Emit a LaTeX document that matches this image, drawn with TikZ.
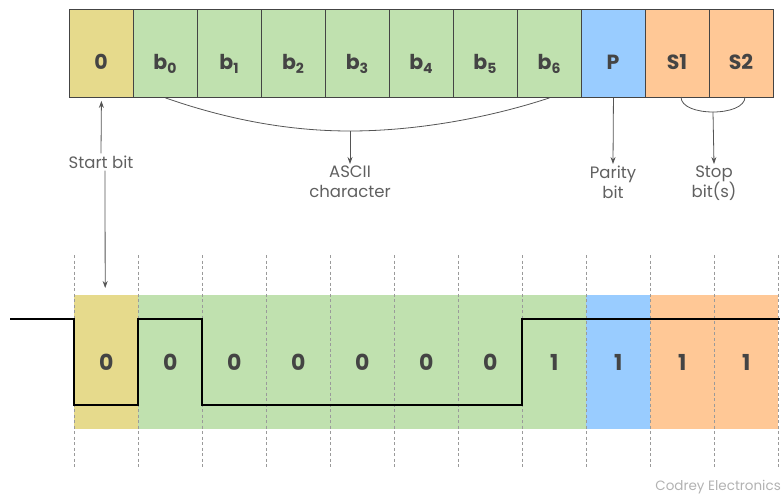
\documentclass[tikz,border=0pt]{standalone}
\usepackage{fontspec}
\setmainfont{Poppins}
\usetikzlibrary{arrows.meta}
\definecolor{cy}{HTML}{E6DA8C}
\definecolor{cg}{HTML}{C0E1AF}
\definecolor{cb}{HTML}{99CCFF}
\definecolor{co}{HTML}{FFC896}
\definecolor{tx}{HTML}{444444}
\definecolor{ln}{HTML}{555555}
\definecolor{lt}{HTML}{606060}
\definecolor{dl}{HTML}{9A9A9A}
\newcommand\bsub[1]{b\raisebox{-0.42ex}{\fontsize{14}{14}\selectfont #1}}
\begin{document}
\begin{tikzpicture}[x=1pt,y=-1pt,
 cell/.style={draw=tx, line width=0.9pt, minimum width=64pt, minimum height=88pt, inner sep=0pt, anchor=north west},
 celltext/.style={font=\fontsize{20.5}{20}\selectfont\bfseries, text=tx, anchor=base, inner sep=0pt},
 band/.style={minimum width=64pt, minimum height=134pt, inner sep=0pt, anchor=north west, draw=none},
 bandtext/.style={font=\fontsize{22}{22}\selectfont\bfseries, text=tx, anchor=center, inner sep=0pt},
 lab/.style={font=\fontsize{16.5}{20}\selectfont, text=lt, align=center, inner sep=2pt},
 arr/.style={draw=ln, line width=0.8pt, -{Stealth[length=7pt,width=5pt]}},
 con/.style={draw=ln, line width=0.8pt},
 gridline/.style={draw=dl, line width=0.6pt, dash pattern=on 3pt off 2.5pt},
 sig/.style={draw=black, line width=1.7pt, line join=miter}]
\useasboundingbox (0,0) rectangle (782,496);
% top cells
\foreach \i/\c in {0/cy,1/cg,2/cg,3/cg,4/cg,5/cg,6/cg,7/cg,8/cb,9/co,10/co}{
  \node[cell, fill=\c] (c\i) at ({69+64*\i},9) {};
}
\foreach \i/\t in {0/0,1/\bsub{0},2/\bsub{1},3/\bsub{2},4/\bsub{3},5/\bsub{4},6/\bsub{5},7/\bsub{6},8/P,9/S1,10/S2}{
  \node[celltext] (t\i) at ({101+64*\i},69) {\t};
}
% bottom bands
\foreach \i/\c/\v in {0/cy/0,1/cg/0,2/cg/0,3/cg/0,4/cg/0,5/cg/0,6/cg/0,7/cg/1,8/cb/1,9/co/1,10/co/1}{
  \node[band, fill=\c] (b\i) at ({74+64*\i},295) {};
}
\foreach \k in {0,...,11}{
  \coordinate (gt\k) at ({74+64*\k},255);
  \coordinate (gb\k) at ({74+64*\k},467);
  \draw[gridline] (gt\k) -- (gb\k);
}
\foreach \i/\v in {0/0,1/0,2/0,3/0,4/0,5/0,6/0,7/1,8/1,9/1,10/1}{
  \node[bandtext] (v\i) at ([yshift=-0.5pt]b\i.center) {\v};
}
% signal
\coordinate (s0) at (10,319);
\draw[sig] (s0) -- (74,319) -- (74,405) -- (138,405) -- (138,319) -- (202,319)
  -- (202,405) -- (522,405) -- (522,319) -- (780,319);
% labels
\node[lab] (sb) at (101,162) {Start bit};
\node[lab, anchor=north] (asc) at (350,164) {ASCII\\character};
\node[lab, anchor=north] (par) at (613,164) {Parity\\bit};
\node[lab, anchor=north] (stp) at (714,164) {Stop\\bit(s)};
\node[font=\fontsize{13.5}{14}\selectfont, text=black!30, anchor=east, inner sep=0pt] (cr) at (781,487) {Codrey Electronics};
% connectors
\draw[arr, shorten >=3pt] (sb.north) -- (c0.south);
\draw[arr, shorten >=7pt] ([xshift=4pt]sb.south) -- ([xshift=-1pt]b0.north);
\coordinate (amid) at (350,131);
\draw[con] (c1.south) .. controls (228,119.7) and (289,131) .. (amid)
  .. controls (411,131) and (483,119.7) .. (c7.south);
\draw[arr] (amid) -- (asc.north);
\draw[arr] (c8.south) -- (par.north);
\coordinate (s1) at (681,97);
\coordinate (s2) at (745,97);
\coordinate (smid) at (713,112);
\draw[con] (s1) .. controls (681,117) and (745,117) .. (s2);
\draw[arr] (smid) -- (stp.north);
\end{tikzpicture}
\end{document}
